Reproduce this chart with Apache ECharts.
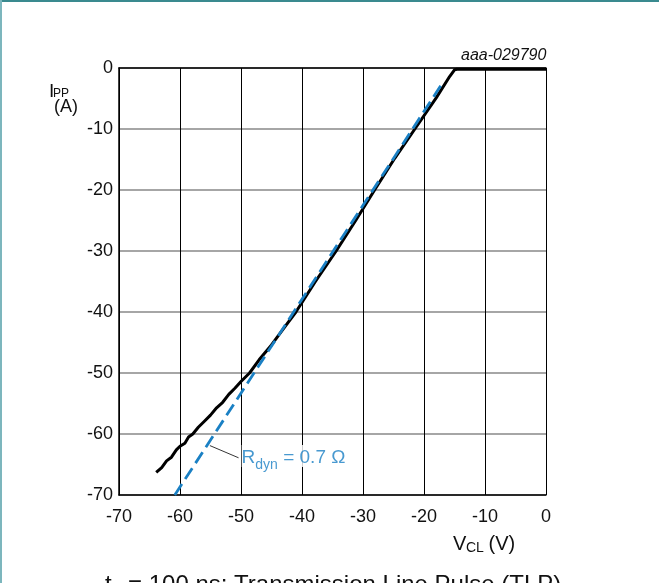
<!DOCTYPE html>
<html>
<head>
<meta charset="utf-8">
<script src="https://cdn.jsdelivr.net/npm/echarts@6/dist/echarts.min.js"></script>
<style>
html,body{margin:0;padding:0;background:#fff;}
#chart{width:659px;height:583px;}
</style>
</head>
<body>
<div id="chart"></div>
<script>
// Measured TLP curve (V_CL in V, I_PP in A)
var measuredV = [-63.9,-63.0,-62.2,-61.4,-60.6,-60.0,-59.2,-58.6,-57.9,-57.0,-56.0,-55.0,-54.0,-53.0,-52.0,-51.0,-50.0,-48.6,-47.0,-45.0,-43.0,-41.0,-37.8,-34.4,-31.2,-28.1,-24.8,-21.5,-18.0,-15.8,-15.0,-14.6,-10.0,-5.0,0.0];
var measuredI = [-66.3,-65.5,-64.4,-63.8,-62.6,-62.0,-61.5,-60.5,-60.0,-58.9,-57.9,-56.9,-55.7,-54.8,-53.5,-52.5,-51.4,-50.0,-47.8,-45.4,-42.7,-40.0,-35.0,-30.0,-25.0,-20.0,-14.8,-10.0,-4.9,-1.4,-0.3,-0.2,-0.2,-0.2,-0.2];
// Dynamic resistance fit line (R_dyn = 0.7 ohm)
var fitV = [-60.85,-17.0];
var fitI = [-70.0,-2.5];
// Leader line for annotation
var leaderV = [-55.1,-50.4];
var leaderI = [-61.9,-63.9];
var annotV = -49.9, annotI = -63.6;
var xTicks = {min:-70, max:0, interval:10};
var yTicks = {min:-70, max:0, interval:10};

function zip(a,b){return a.map(function(v,i){return [v,b[i]];});}

var FONT = 'Liberation Sans, Arial, sans-serif';
var BLUE = '#1a80c4';
var INK = '#111';

var chart = echarts.init(document.getElementById('chart'));
chart.setOption({
  animation:false,
  backgroundColor:'#fff',
  grid:{left:119, right:113, top:68, bottom:88},
  xAxis:[{
    type:'value', min:xTicks.min, max:xTicks.max, interval:xTicks.interval,
    axisLine:{show:true, onZero:false, lineStyle:{color:'#000', width:1.5}},
    axisTick:{show:false},
    axisLabel:{color:INK, fontSize:18, fontFamily:FONT, margin:13},
    splitLine:{show:true, lineStyle:{color:'#000', width:1}}
  },{
    type:'value', position:'top', min:xTicks.min, max:xTicks.max, interval:xTicks.interval,
    axisLine:{show:true, onZero:false, lineStyle:{color:'#000', width:1.5}},
    axisTick:{show:false}, axisLabel:{show:false}, splitLine:{show:false}
  }],
  yAxis:{
    type:'value', min:yTicks.min, max:yTicks.max, interval:yTicks.interval,
    axisLine:{show:true, onZero:false, lineStyle:{color:'#000', width:1.5}},
    axisTick:{show:false},
    axisLabel:{color:INK, fontSize:18, fontFamily:FONT, margin:6},
    splitLine:{show:true, lineStyle:{color:'#888', width:1.5}}
  },
  series:[{
    type:'line', data:zip(measuredV, measuredI), showSymbol:false, smooth:false,
    lineStyle:{color:'#000', width:3}, z:3
  },{
    type:'line', data:zip(fitV, fitI), showSymbol:false,
    lineStyle:{color:BLUE, width:2.8, type:[13,6]}, z:4
  },{
    type:'line', data:zip(leaderV, leaderI), showSymbol:false,
    lineStyle:{color:'#000', width:0.8}, z:5
  },{
    type:'scatter', data:[[annotV, annotI]], symbolSize:0, z:6,
    label:{show:true, position:'right', distance:0,
      formatter:'{r|R}{s|dyn}{r| = 0.7 Ω}',
      backgroundColor:'#fff',
      rich:{
        r:{color:BLUE, fontSize:19, fontFamily:FONT, verticalAlign:'bottom', lineHeight:22},
        s:{color:BLUE, fontSize:14, fontFamily:FONT, verticalAlign:'bottom', lineHeight:22, padding:[0,0,-5,0]}
      }}
  }],
  graphic:[
    {type:'line', shape:{x1:0,y1:1,x2:659,y2:1}, style:{stroke:'#3a8a8f', lineWidth:2}},
    {type:'line', shape:{x1:1,y1:0,x2:1,y2:583}, style:{stroke:'#7cb6bd', lineWidth:2}},
    {type:'text', left:461, top:48, style:{text:'aaa-029790', font:'italic 16px '+FONT, fill:INK}},
    {type:'text', left:49, top:82, style:{text:'I', font:'19px '+FONT, fill:INK}},
    {type:'text', left:53, top:88, style:{text:'PP', font:'12px '+FONT, fill:INK}},
    {type:'text', left:54, top:98, style:{text:'(A)', font:'18px '+FONT, fill:INK}},
    {type:'text', left:453, top:534, style:{text:'V', font:'20px '+FONT, fill:INK}},
    {type:'text', left:466, top:541, style:{text:'CL', font:'14px '+FONT, fill:INK}},
    {type:'text', left:483, top:534, style:{text:' (V)', font:'20px '+FONT, fill:INK}},
    {type:'text', left:105, top:573, style:{text:'t', font:'24px '+FONT, fill:INK}},
    {type:'text', left:112, top:581, style:{text:'p', font:'17px '+FONT, fill:INK}},
    {type:'text', left:128, top:573, style:{text:'= 100 ns; Transmission Line Pulse (TLP)', font:'24px '+FONT, fill:INK}}
  ]
});
</script>
</body>
</html>
